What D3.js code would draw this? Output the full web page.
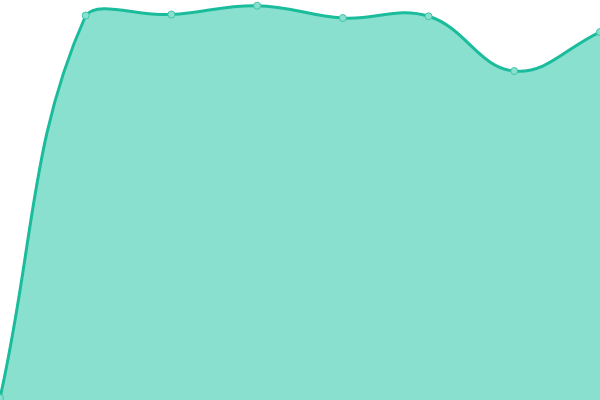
<!DOCTYPE html>
<html>
<head>
<meta charset="utf-8">
<script src="https://cdn.jsdelivr.net/npm/d3@7"></script>
<style>
  html, body { margin: 0; padding: 0; background: #fff; }
  svg { display: block; }
</style>
</head>
<body>
<div id="chart"></div>
<script>
// categories (no labels shown) and series values
const categories = ["c1", "c2", "c3", "c4", "c5", "c6", "c7", "c8"];
const values = [2, 384.5, 385.5, 394.3, 382, 383.7, 329, 368];

const width = 600, height = 400;
const tension = 0.4;

const x = d3.scalePoint().domain(categories).range([0, width]);
const y = d3.scaleLinear().domain([0, 400]).range([height, 0]);

const svg = d3.select("#chart").append("svg")
    .attr("width", width).attr("height", height);

const pts = categories.map((c, i) => ({ x: x(c), y: y(values[i]) }));

// spline control points, capped to the plot area
const clampX = v => Math.max(0, Math.min(width, v));
const clampY = v => Math.max(0, Math.min(height, v));
pts.forEach((p, i) => {
    const prev = pts[i - 1] || p, next = pts[i + 1] || p;
    const d01 = Math.hypot(p.x - prev.x, p.y - prev.y);
    const d12 = Math.hypot(next.x - p.x, next.y - p.y);
    let s01 = d01 / (d01 + d12), s12 = d12 / (d01 + d12);
    if (isNaN(s01)) s01 = 0;
    if (isNaN(s12)) s12 = 0;
    const fa = tension * s01, fb = tension * s12;
    p.cpPrev = { x: clampX(p.x - fa * (next.x - prev.x)), y: clampY(p.y - fa * (next.y - prev.y)) };
    p.cpNext = { x: clampX(p.x + fb * (next.x - prev.x)), y: clampY(p.y + fb * (next.y - prev.y)) };
});

function curvePath(ctx) {
    ctx.moveTo(pts[0].x, pts[0].y);
    for (let i = 1; i < pts.length; i++) {
        const a = pts[i - 1], b = pts[i];
        ctx.bezierCurveTo(a.cpNext.x, a.cpNext.y, b.cpPrev.x, b.cpPrev.y, b.x, b.y);
    }
    return ctx;
}

const areaPath = curvePath(d3.path());
areaPath.lineTo(pts[pts.length - 1].x, y(0) + 10);
areaPath.lineTo(pts[0].x, y(0) + 10);
areaPath.closePath();

svg.append("path")
    .attr("d", areaPath.toString())
    .attr("fill", "#8ae0cf");

svg.append("path")
    .attr("d", curvePath(d3.path()).toString())
    .attr("fill", "none")
    .attr("stroke", "#1abc9c")
    .attr("stroke-width", 3);

svg.selectAll("circle").data(pts).enter().append("circle")
    .attr("cx", d => d.x)
    .attr("cy", d => d.y)
    .attr("r", 3.5)
    .attr("fill", "#8ae0cf")
    .attr("stroke", "#3fc6aa")
    .attr("stroke-width", 1);
</script>
</body>
</html>
